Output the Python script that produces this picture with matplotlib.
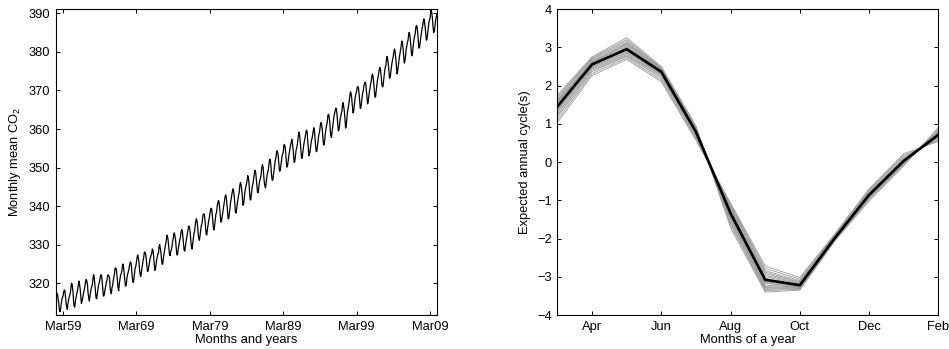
import numpy as np
import matplotlib
matplotlib.use('Agg')
import matplotlib.pyplot as plt

plt.rcParams['font.family'] = ['Liberation Sans', 'DejaVu Sans']
plt.rcParams['mathtext.fontset'] = 'custom'
plt.rcParams['mathtext.rm'] = 'Liberation Sans'

# Monthly mean CO2 (ppm), calendar-year rows; series starts March 1958, ends February 2010
co2_rows = {
    1958: [315.71, 317.45, 317.50, 317.10, 315.86, 314.93, 313.20, 312.66, 313.33, 314.67],
    1959: [315.62, 316.38, 316.71, 317.72, 318.29, 318.15, 316.54, 314.80, 313.84, 313.26, 314.80, 315.58],
    1960: [316.43, 316.97, 317.58, 319.02, 320.03, 319.59, 318.18, 315.91, 314.16, 313.83, 315.00, 316.19],
    1961: [316.93, 317.70, 318.54, 319.48, 320.58, 319.77, 318.57, 316.79, 314.80, 315.38, 316.10, 317.01],
    1962: [317.94, 318.56, 319.68, 320.63, 321.01, 320.55, 319.58, 317.40, 316.26, 315.42, 316.69, 317.69],
    1963: [318.74, 319.08, 319.86, 321.39, 322.25, 321.47, 319.74, 317.77, 316.21, 315.99, 317.12, 318.31],
    1964: [319.57, 320.07, 320.73, 321.77, 322.25, 321.89, 320.44, 318.70, 316.70, 316.79, 317.79, 318.71],
    1965: [319.44, 320.44, 320.89, 322.13, 322.16, 321.87, 321.39, 318.81, 317.81, 317.30, 318.87, 319.42],
    1966: [320.62, 321.59, 322.39, 323.87, 324.01, 323.75, 322.39, 320.37, 318.64, 318.10, 319.79, 321.08],
    1967: [322.07, 322.50, 323.04, 324.42, 325.00, 324.09, 322.55, 320.92, 319.31, 319.31, 320.72, 321.96],
    1968: [322.57, 323.15, 323.89, 325.02, 325.57, 325.36, 324.14, 322.03, 320.41, 320.25, 321.31, 322.84],
    1969: [324.00, 324.42, 325.64, 326.66, 327.38, 326.70, 325.89, 323.67, 322.38, 321.78, 322.85, 324.11],
    1970: [325.03, 325.99, 326.87, 328.13, 328.07, 327.66, 326.35, 324.69, 323.10, 323.16, 323.98, 325.13],
    1971: [326.17, 326.68, 327.18, 327.78, 328.92, 328.57, 327.34, 325.46, 323.36, 323.57, 324.80, 326.01],
    1972: [326.77, 327.63, 327.75, 329.72, 330.07, 329.09, 328.05, 326.32, 324.93, 325.06, 326.50, 327.55],
    1973: [328.54, 329.56, 330.30, 331.50, 332.48, 332.07, 330.87, 329.31, 327.51, 327.18, 328.16, 328.64],
    1974: [329.35, 330.71, 331.48, 332.65, 333.09, 332.25, 331.18, 329.40, 327.43, 327.37, 328.46, 329.57],
    1975: [330.40, 331.40, 332.04, 333.31, 333.96, 333.59, 331.91, 330.06, 328.56, 328.34, 329.49, 330.76],
    1976: [331.75, 332.56, 333.50, 334.58, 334.87, 334.34, 333.05, 330.94, 329.30, 328.94, 330.31, 331.68],
    1977: [332.93, 333.42, 334.70, 336.07, 336.74, 336.27, 334.93, 332.75, 331.58, 331.16, 332.40, 333.85],
    1978: [334.97, 335.38, 336.64, 337.76, 338.01, 337.89, 336.54, 334.68, 332.76, 332.54, 333.92, 334.95],
    1979: [336.23, 336.76, 337.96, 338.89, 339.47, 339.29, 337.73, 336.09, 333.91, 333.86, 335.29, 336.73],
    1980: [338.01, 338.36, 340.08, 340.77, 341.46, 341.17, 339.56, 337.60, 335.88, 336.01, 337.10, 338.21],
    1981: [339.23, 340.47, 341.38, 342.51, 342.91, 342.25, 340.49, 338.43, 336.69, 336.85, 338.36, 339.61],
    1982: [341.10, 341.96, 343.05, 343.91, 344.48, 343.70, 342.41, 340.17, 338.32, 338.21, 339.61, 340.84],
    1983: [341.75, 342.89, 343.47, 345.31, 346.12, 345.69, 344.36, 342.76, 340.23, 340.36, 341.53, 343.36],
    1984: [344.28, 345.09, 345.84, 346.85, 347.92, 347.44, 346.10, 343.52, 341.65, 341.65, 343.24, 344.66],
    1985: [345.51, 346.27, 347.61, 348.54, 349.29, 348.73, 347.08, 345.17, 343.57, 343.46, 344.78, 346.16],
    1986: [346.85, 347.36, 348.30, 349.99, 350.77, 350.14, 348.20, 346.28, 345.26, 344.74, 346.09, 347.30],
    1987: [348.52, 348.88, 349.85, 351.45, 352.17, 351.82, 350.15, 347.96, 346.71, 346.82, 348.08, 349.36],
    1988: [350.44, 351.85, 352.46, 353.77, 354.38, 353.86, 352.77, 350.65, 349.08, 349.18, 350.28, 351.53],
    1989: [353.03, 353.41, 353.96, 355.74, 356.01, 355.42, 354.10, 351.73, 350.12, 350.42, 351.57, 352.94],
    1990: [353.93, 355.01, 355.78, 356.38, 357.37, 356.40, 354.99, 352.97, 351.34, 351.65, 353.10, 354.51],
    1991: [355.06, 355.87, 357.25, 358.61, 359.21, 358.20, 356.21, 353.99, 352.41, 352.43, 353.91, 355.19],
    1992: [356.36, 357.12, 358.00, 359.18, 359.72, 359.46, 356.99, 355.06, 353.06, 353.47, 354.42, 355.66],
    1993: [357.02, 357.42, 358.51, 359.41, 360.32, 359.66, 357.69, 355.55, 354.12, 354.29, 355.52, 356.95],
    1994: [358.36, 358.91, 359.97, 361.26, 361.68, 360.95, 359.55, 357.49, 355.84, 356.00, 357.59, 359.05],
    1995: [359.98, 361.03, 361.66, 363.48, 363.82, 363.30, 361.94, 359.50, 358.11, 357.80, 359.61, 360.74],
    1996: [362.09, 363.29, 364.06, 364.76, 365.45, 365.01, 363.70, 361.54, 359.51, 359.65, 360.80, 362.38],
    1997: [363.23, 364.06, 364.61, 366.40, 366.84, 365.68, 364.52, 362.57, 360.24, 360.83, 362.49, 364.34],
    1998: [365.35, 366.17, 367.32, 368.80, 369.65, 369.14, 367.93, 365.98, 364.20, 364.54, 365.71, 367.27],
    1999: [368.48, 369.18, 369.71, 370.79, 371.01, 370.59, 369.29, 367.28, 365.33, 365.53, 366.96, 368.31],
    2000: [369.44, 369.96, 371.26, 371.79, 372.17, 371.72, 370.10, 368.21, 366.53, 367.06, 368.48, 369.82],
    2001: [370.62, 371.76, 372.46, 373.78, 374.25, 373.55, 371.78, 369.86, 368.23, 368.38, 369.82, 371.37],
    2002: [372.62, 373.36, 374.30, 375.43, 375.97, 375.39, 374.03, 372.02, 370.96, 370.95, 372.41, 373.95],
    2003: [375.22, 376.11, 376.50, 378.31, 378.82, 377.89, 376.57, 374.62, 373.16, 373.48, 374.89, 376.19],
    2004: [377.27, 377.99, 378.84, 380.10, 380.73, 379.99, 378.43, 376.40, 374.28, 374.72, 376.17, 377.47],
    2005: [378.70, 379.72, 380.64, 381.81, 382.77, 382.33, 380.78, 378.78, 377.08, 377.56, 379.06, 380.58],
    2006: [381.44, 382.41, 382.98, 384.36, 385.04, 384.31, 382.78, 380.73, 378.97, 379.14, 380.69, 382.24],
    2007: [383.37, 384.09, 384.94, 386.55, 386.79, 386.29, 384.81, 382.60, 380.94, 381.34, 382.66, 383.82],
    2008: [384.96, 386.02, 386.74, 387.77, 388.53, 387.96, 386.52, 384.66, 383.01, 383.18, 384.60, 386.02],
    2009: [387.44, 388.15, 388.71, 390.06, 390.73, 390.09, 388.57, 386.41, 385.03, 385.28, 386.53, 387.87],
    2010: [388.80, 389.70],
}

first_year = 1958
decade_years = [1959, 1969, 1979, 1989, 1999, 2009]
decade_labels = ['Mar59', 'Mar69', 'Mar79', 'Mar89', 'Mar99', 'Mar09']
cycle_month_labels = ['Mar', 'Apr', 'May', 'Jun', 'Jul', 'Aug',
                      'Sep', 'Oct', 'Nov', 'Dec', 'Jan', 'Feb']

# expected annual cycle (black) and individual cycle draws (grey), Mar..Feb
expected_cycle = [1.45, 2.55, 2.95, 2.36, 0.79, -1.34, -3.08, -3.22, -2.00, -0.86, 0.03, 0.71]
cycle_draws = [
    [1.75, 2.75, 3.25, 2.50, 0.95, -1.72, -3.40, -3.35, -2.08, -1.02, -0.10, 0.90],
    [1.70, 2.72, 3.20, 2.47, 0.92, -1.65, -3.36, -3.33, -2.06, -0.98, -0.07, 0.86],
    [1.66, 2.70, 3.16, 2.46, 0.90, -1.60, -3.33, -3.31, -2.05, -0.95, -0.05, 0.83],
    [1.62, 2.67, 3.12, 2.44, 0.88, -1.55, -3.30, -3.30, -2.04, -0.93, -0.03, 0.80],
    [1.60, 2.58, 3.10, 2.45, 0.90, -1.45, -3.28, -3.26, -2.02, -0.92, -0.02, 0.79],
    [1.58, 2.64, 3.08, 2.42, 0.86, -1.50, -3.26, -3.28, -2.03, -0.91, -0.01, 0.78],
    [1.55, 2.62, 3.05, 2.40, 0.85, -1.46, -3.22, -3.27, -2.02, -0.90, 0.00, 0.76],
    [1.52, 2.60, 3.02, 2.39, 0.83, -1.42, -3.18, -3.25, -2.01, -0.89, 0.01, 0.75],
    [1.50, 2.48, 3.00, 2.38, 0.76, -1.32, -3.10, -3.20, -1.98, -0.86, 0.04, 0.70],
    [1.48, 2.57, 2.98, 2.37, 0.81, -1.38, -3.13, -3.24, -2.00, -0.87, 0.02, 0.73],
    [1.44, 2.54, 2.94, 2.35, 0.79, -1.34, -3.08, -3.22, -2.00, -0.86, 0.03, 0.71],
    [1.40, 2.52, 2.90, 2.33, 0.77, -1.30, -3.04, -3.21, -1.99, -0.85, 0.04, 0.69],
    [1.35, 2.60, 2.92, 2.30, 0.80, -1.40, -3.15, -3.28, -2.04, -0.88, 0.02, 0.72],
    [1.36, 2.49, 2.87, 2.31, 0.75, -1.26, -3.00, -3.19, -1.98, -0.84, 0.05, 0.68],
    [1.32, 2.46, 2.84, 2.29, 0.73, -1.22, -2.96, -3.17, -1.97, -0.83, 0.06, 0.66],
    [1.27, 2.43, 2.81, 2.27, 0.71, -1.19, -2.92, -3.15, -1.96, -0.81, 0.08, 0.64],
    [1.22, 2.40, 2.78, 2.24, 0.68, -1.16, -2.88, -3.13, -1.95, -0.79, 0.11, 0.61],
    [1.17, 2.36, 2.76, 2.20, 0.65, -1.13, -2.84, -3.10, -1.93, -0.76, 0.14, 0.58],
    [1.10, 2.31, 2.72, 2.15, 0.61, -1.10, -2.78, -3.06, -1.91, -0.73, 0.18, 0.56],
    [1.03, 2.26, 2.68, 2.10, 0.57, -1.07, -2.72, -3.02, -1.89, -0.70, 0.22, 0.54],
]

co2 = np.concatenate([np.asarray(co2_rows[y], float) for y in sorted(co2_rows)])
n = len(co2)
idx = np.arange(n)

fs = 9.3
fig = plt.figure(figsize=(9.49, 3.49), dpi=100)
ax1 = fig.add_axes([0.0587, 0.0974, 0.4015, 0.8768])
ax2 = fig.add_axes([0.5873, 0.0974, 0.4015, 0.8768])

# left panel
ax1.plot(idx, co2, color='black', lw=0.9)
ax1.set_xlim(0, n - 1)
ax1.set_ylim(311.8, 391.1)
ax1.set_xticks([(y - first_year) * 12 for y in decade_years])
ax1.set_xticklabels(decade_labels)
ax1.set_yticks(np.arange(320, 391, 10))
ax1.set_xlabel('Months and years', fontsize=fs, labelpad=1)
ax1.set_ylabel(r'Monthly mean CO$_\mathregular{2}$', fontsize=fs, labelpad=4)

# right panel
xm = np.arange(1, len(cycle_month_labels) + 1)
for c in cycle_draws:
    ax2.plot(xm, c, color='#9a9a9a', lw=0.6)
ax2.plot(xm, expected_cycle, color='black', lw=1.9)
ax2.set_xlim(1, 12)
ax2.set_ylim(-4, 4)
ax2.set_xticks(xm[1::2])
ax2.set_xticklabels(cycle_month_labels[1::2])
ax2.set_yticks(np.arange(-4, 5, 1))
ax2.set_yticklabels([str(v).replace('-', '\u2212') for v in range(-4, 5)])
ax2.set_xlabel('Months of a year', fontsize=fs, labelpad=1)
ax2.set_ylabel('Expected annual cycle(s)', fontsize=fs, labelpad=4)

for ax in (ax1, ax2):
    ax.tick_params(direction='in', top=True, right=True, length=3, width=0.7,
                   labelsize=fs, pad=4)
    for s in ax.spines.values():
        s.set_linewidth(0.8)

fig.savefig('out.png', dpi=100)
